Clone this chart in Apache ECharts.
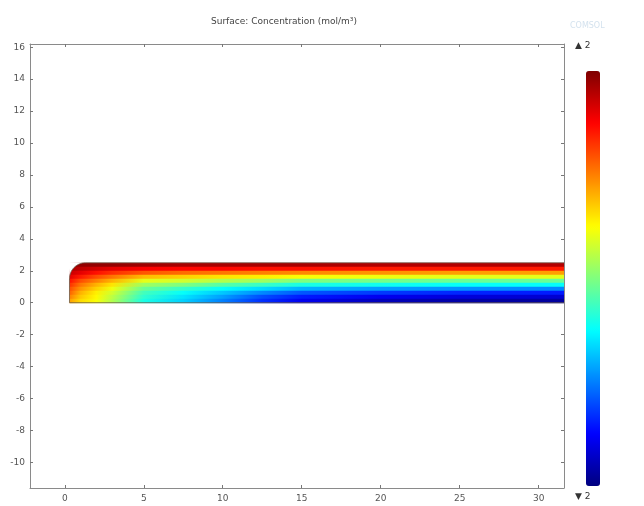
<!DOCTYPE html>
<html>
<head>
<meta charset="utf-8">
<script src="https://cdn.jsdelivr.net/npm/echarts@6/dist/echarts.min.js"></script>
<style>
  html, body { margin: 0; padding: 0; background: #fff; }
  #main { width: 644px; height: 506px; }
</style>
</head>
<body>
<div id="main"></div>
<script>
// ---- data ----
var titleText = 'Surface: Concentration (mol/m\u00b3)';
var xTicks = [0, 5, 10, 15, 20, 25, 30];
var yTicks = [-10, -8, -6, -4, -2, 0, 2, 4, 6, 8, 10, 12, 14, 16];
var barLabels = ['\u25b2 2', '\u25bc 2'];

// domain: channel from x=0.3 to the edge of the view, height 2.5, rounded inlet corner
var domX0 = 0.3;
var domX1 = 31.6;
var domH = 2.5;
var cornerR = 1;

// sample columns (x) and the scaled concentration in 10 bands, top band first
var colX = [0.3, 1, 2, 3, 5, 7.5, 10, 12.5, 15, 20, 25, 31.6];
var conc = [
  [0.98, 0.98, 0.98, 0.98, 0.97, 0.96, 0.96, 0.96, 0.96, 0.95, 0.95, 0.95],
  [0.96, 0.94, 0.92, 0.90, 0.88, 0.87, 0.87, 0.86, 0.86, 0.85, 0.85, 0.85],
  [0.93, 0.90, 0.86, 0.83, 0.79, 0.77, 0.76, 0.75, 0.74, 0.73, 0.72, 0.72],
  [0.90, 0.85, 0.80, 0.76, 0.69, 0.67, 0.65, 0.64, 0.62, 0.61, 0.60, 0.60],
  [0.86, 0.80, 0.75, 0.70, 0.60, 0.58, 0.55, 0.53, 0.50, 0.49, 0.48, 0.48],
  [0.83, 0.76, 0.70, 0.65, 0.53, 0.50, 0.46, 0.43, 0.40, 0.39, 0.38, 0.38],
  [0.80, 0.73, 0.67, 0.61, 0.48, 0.43, 0.38, 0.34, 0.30, 0.28, 0.27, 0.26],
  [0.78, 0.70, 0.64, 0.58, 0.44, 0.38, 0.32, 0.26, 0.21, 0.18, 0.16, 0.15],
  [0.75, 0.68, 0.63, 0.56, 0.42, 0.35, 0.28, 0.20, 0.15, 0.11, 0.09, 0.08],
  [0.72, 0.66, 0.62, 0.55, 0.40, 0.33, 0.25, 0.17, 0.11, 0.06, 0.04, 0.03]
];

var jet = ['#00007f', '#0000ff', '#007fff', '#00ffff', '#7fff7f', '#ffff00', '#ff7f00', '#ff0000', '#7f0000'];

var chart = echarts.init(document.getElementById('main'));

function bandColor(v) {
  return echarts.color.lerp(v, jet);
}

// one band of the surface, shaded along x
function renderBand(params, api) {
  var i = api.value(0);
  var bandH = domH / conc.length;
  var yTop = domH - i * bandH;
  var p0 = api.coord([domX0, yTop]);
  var p1 = api.coord([domX1, yTop - bandH]);
  var stops = [];
  for (var j = 0; j < colX.length; j++) {
    stops.push({ offset: (colX[j] - domX0) / (domX1 - domX0), color: bandColor(conc[i][j]) });
  }
  return {
    type: 'rect',
    shape: { x: p0[0], y: p0[1], width: p1[0] - p0[0], height: p1[1] - p0[1] + 0.6 },
    style: { fill: new echarts.graphic.LinearGradient(0, 0, 1, 0, stops) }
  };
}

// white mask for the rounded corner and the outline of the domain
function renderEdge(params, api) {
  var cx = domX0 + cornerR, cy = domH - cornerR;
  var arc = [];
  for (var k = 0; k <= 16; k++) {
    var a = Math.PI - k / 16 * Math.PI / 2;
    arc.push(api.coord([cx + cornerR * Math.cos(a), cy + cornerR * Math.sin(a)]));
  }
  var mask = [api.coord([domX0 - 0.05, domH + 0.05])].concat(arc);
  var outline = [api.coord([domX1, domH])].concat(arc.slice().reverse())
    .concat([api.coord([domX0, 0]), api.coord([domX1, 0])]);
  return {
    type: 'group',
    children: [
      { type: 'polygon', shape: { points: mask }, style: { fill: '#fff' } },
      { type: 'polyline', shape: { points: outline }, style: { stroke: '#6a5a4a', lineWidth: 0.8, fill: null } }
    ]
  };
}

var bandIndex = [];
for (var b = 0; b < conc.length; b++) bandIndex.push([b]);

var axisLine = { onZero: false, lineStyle: { color: '#8a8a8a', width: 1 } };
var tickLine = { color: '#777' };
var labelStyle = { color: '#555', fontSize: 9, fontFamily: 'DejaVu Sans' };

var option = {
  animation: false,
  backgroundColor: '#fff',
  title: {
    text: titleText,
    left: 206, top: 12,
    textStyle: { fontSize: 9, fontWeight: 'normal', color: '#444', fontFamily: 'DejaVu Sans' }
  },
  grid: { left: 30, right: 80, top: 44, bottom: 18 },
  xAxis: [
    {
      type: 'value', min: -2.2, max: 31.6, position: 'bottom',
      axisLine: axisLine, splitLine: { show: false },
      axisTick: { inside: true, length: 3, customValues: xTicks, lineStyle: tickLine },
      axisLabel: Object.assign({ customValues: xTicks, margin: 6 }, labelStyle)
    },
    {
      type: 'value', min: -2.2, max: 31.6, position: 'top',
      axisLine: axisLine, splitLine: { show: false },
      axisTick: { inside: true, length: 3, customValues: xTicks, lineStyle: tickLine },
      axisLabel: { show: false }
    }
  ],
  yAxis: [
    {
      type: 'value', min: -11.6, max: 16.2, position: 'left',
      axisLine: axisLine, splitLine: { show: false },
      axisTick: { inside: true, length: 3, customValues: yTicks, lineStyle: tickLine },
      axisLabel: Object.assign({ customValues: yTicks, margin: 5 }, labelStyle)
    },
    {
      type: 'value', min: -11.6, max: 16.2, position: 'right',
      axisLine: axisLine, splitLine: { show: false },
      axisTick: { inside: true, length: 3, customValues: yTicks, lineStyle: tickLine },
      axisLabel: { show: false }
    }
  ],
  visualMap: {
    type: 'continuous',
    min: 0, max: 1,
    seriesIndex: [],
    orient: 'vertical',
    left: 571, top: 56,
    itemWidth: 14, itemHeight: 415,
    calculable: false,
    showLabel: false,
    inRange: { color: jet }
  },
  graphic: [
    { type: 'text', left: 575, top: 41, style: { text: barLabels[0], fontSize: 9, fill: '#333', fontFamily: 'DejaVu Sans' } },
    { type: 'text', left: 575, top: 492, style: { text: barLabels[1], fontSize: 9, fill: '#333', fontFamily: 'DejaVu Sans' } },
    { type: 'text', left: 570, top: 22, style: { text: 'COMSOL', fontSize: 8, fill: '#d4e2ee', fontFamily: 'DejaVu Sans' } }
  ],
  series: [
    { type: 'custom', name: 'surface', renderItem: renderBand, data: bandIndex, silent: true },
    { type: 'custom', name: 'edge', renderItem: renderEdge, data: [[0]], silent: true }
  ]
};

chart.setOption(option);
</script>
</body>
</html>
